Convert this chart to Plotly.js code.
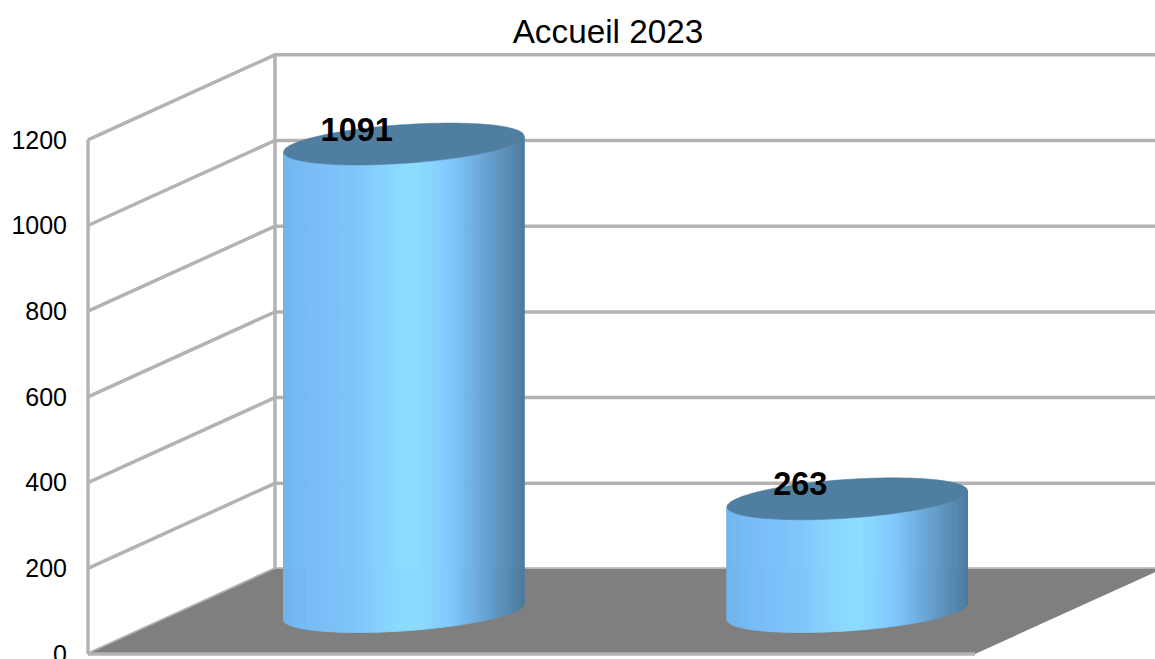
<!DOCTYPE html>
<html><head><meta charset="utf-8">
<script src="https://cdn.plot.ly/plotly-3.0.1.min.js"></script>
<style>html,body{margin:0;padding:0;background:#fff;overflow:hidden}</style>
</head><body><div id="chart" style="width:1155px;height:659px"></div>
<script>
// ---- chart values ----
const chartTitle = 'Accueil 2023';
const slots = [0, 1];
const values = [1091, 263];
const yTicks = [0, 200, 400, 600, 800, 1000, 1200];
const yTickLabels = ['0', '200', '400', '600', '800', '1000', '1200'];

// ---- oblique projection, expressed in axis units ----
const W = 1155, H = 659, mL = 80, mR = 0, mT = 45, mB = 2;
const pxPerSlot = 443.5, pxPerValue = 0.4285, wallPx = 88, belowZeroPx = 3;
const depthX = 187 / pxPerSlot, depthY = 85 / pxPerValue;
const xMin = -0.5 - (wallPx - mL) / pxPerSlot;
const xMax = xMin + (W - mL - mR) / pxPerSlot;
const yMin = -belowZeroPx / pxPerValue;
const yMax = yMin + (H - mT - mB) / pxPerValue;
const yTop = yTicks[yTicks.length - 1], xLeft = -0.5, xRight = 1.5;
const proj = (x, v, d) => [x + d * depthX, v + d * depthY];

const traces = [];
function poly(pts, fill, lineColor, lineWidth) {
  traces.push({
    type: 'scatter', mode: 'lines', hoverinfo: 'skip', showlegend: false,
    x: pts.map(p => p[0]), y: pts.map(p => p[1]),
    fill: fill ? 'toself' : 'none', fillcolor: fill || undefined,
    line: {color: lineColor || fill, width: lineWidth === undefined ? 0 : lineWidth, simplify: false}
  });
}

// walls
const grid = '#b3b3b3', gridW = 3.5;
yTicks.forEach(v => {
  poly([proj(xLeft, v, 0), proj(xLeft, v, 1), proj(xRight, v, 1)], null, grid, gridW);
});
poly([proj(xLeft, 0, 0), proj(xLeft, yTop, 0)], null, grid, gridW);
poly([proj(xLeft, 0, 1), proj(xLeft, yTop, 1)], null, grid, gridW);
// floor
poly([proj(xLeft,0,0), proj(xLeft,0,1), proj(xRight,0,1), proj(xRight,0,0), proj(xLeft,0,0)], '#7f7f7f', '#7f7f7f', 0);
poly([proj(xLeft,0,0), proj(xRight,0,0)], null, grid, gridW);

// cylinders
const R = 111 / pxPerSlot, Rd = 0.247, capNudge = 0.5 / pxPerSlot;
const dpx = Rd * 187 / pxPerSlot;
const phi = Math.atan2(dpx, R);
const ring = (i, v, t) => proj(i + capNudge + R * Math.cos(t), v, 0.5 + Rd * Math.sin(t));
const stops = [[0,[112,182,238]],[0.12,[120,189,246]],[0.3,[127,198,252]],[0.5,[140,220,255]],[0.56,[140,220,255]],[0.7,[128,200,255]],[0.82,[106,168,216]],[1,[77,124,158]]];
function gradient(f) {
  for (let k = 1; k < stops.length; k++) if (f <= stops[k][0]) {
    const a = stops[k-1], b = stops[k], u = (f - a[0]) / (b[0] - a[0]);
    const c = a[1].map((q, n) => Math.round(q + (b[1][n] - q) * u));
    return `rgb(${c[0]},${c[1]},${c[2]})`;
  }
  return 'rgb(77,124,158)';
}
const N = 90;
slots.forEach((s, i) => {
  const v = values[i], half = Math.hypot(R, dpx), cx = s + capNudge + 0.5 * depthX;
  for (let k = 0; k < N; k++) {
    const t0 = Math.PI + phi + Math.PI * k / N, t1 = Math.PI + phi + Math.PI * (k + 1) / N;
    const a = ring(s, 0, t0), b = ring(s, 0, t1), c = ring(s, v, t1), d = ring(s, v, t0);
    const f = ((a[0] + b[0]) / 2 - (cx - half)) / (2 * half);
    const col = gradient(f);
    poly([a, b, c, d, a], col, col, 0.8);
  }
  const cap = [];
  for (let k = 0; k <= 120; k++) cap.push(ring(s, v, 2 * Math.PI * k / 120));
  poly(cap, '#4f7ea0', '#4f7ea0', 0.5);
});

// value labels
const labelDX = -46.5 / pxPerSlot + 0.5 * depthX, labelDY = 126;
traces.push({
  type: 'scatter', mode: 'text', hoverinfo: 'skip', showlegend: false, cliponaxis: false,
  x: slots.map(s => s + labelDX), y: values.map(v => v + labelDY),
  text: values.map(String), textposition: 'middle center',
  textfont: {family: 'Liberation Sans', size: 32.5, color: '#000', weight: 700}
});

const layout = {
  width: W, height: H, margin: {l: mL, r: mR, t: mT, b: mB, pad: 0},
  paper_bgcolor: '#fff', plot_bgcolor: '#fff', showlegend: false,
  font: {family: 'Liberation Sans', color: '#000'},
  title: {text: chartTitle, x: 608 / W, xanchor: 'center', y: 1 - 31 / H, yanchor: 'middle',
          font: {family: 'Liberation Sans', size: 33.3, color: '#000'}},
  xaxis: {range: [xMin, xMax], visible: false, fixedrange: true},
  yaxis: {range: [yMin, yMax], tickvals: yTicks, ticktext: yTickLabels, ticks: '', showgrid: false,
          zeroline: false, showline: false, fixedrange: true, automargin: false,
          ticklabeloverflow: 'allow', ticklabelstandoff: 12,
          tickfont: {family: 'Liberation Sans', size: 25, color: '#000'}}
};
Plotly.newPlot('chart', traces, layout, {displayModeBar: false, staticPlot: true});
</script></body></html>
